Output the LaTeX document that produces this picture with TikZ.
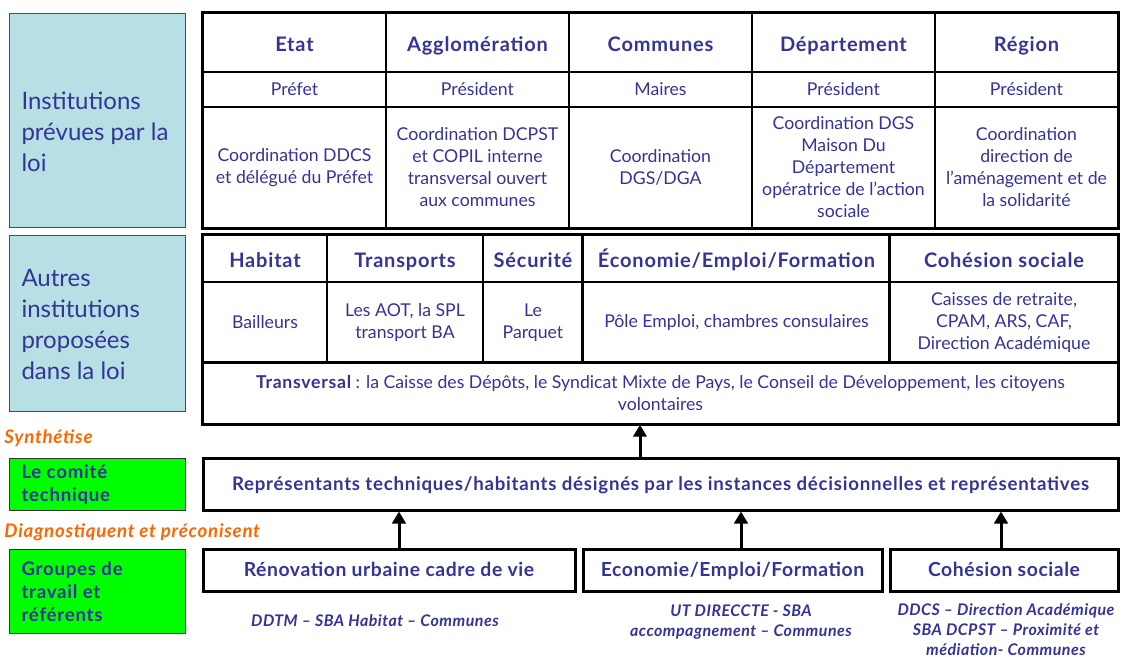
\documentclass[tikz,border=0pt]{standalone}
\usepackage{fontspec}
\setmainfont{Lato}
\usepackage{tikz}
\usetikzlibrary{arrows.meta}
\definecolor{txtblue}{RGB}{51,51,153}
\definecolor{boxteal}{RGB}{183,224,228}
\definecolor{boxgreen}{RGB}{0,255,0}
\definecolor{txtorange}{RGB}{255,102,0}
\newcommand{\widebold}{\bfseries\addfontfeatures{LetterSpace=4}}
\tikzset{every picture/.style={line width=0.75pt}}
\tikzset{
  cell/.style={draw, line width=1.1pt, inner sep=0pt, align=center, text=txtblue, font=\fontsize{13.25}{16.5}\selectfont},
  headcell/.style={cell, text height=13pt, text depth=0pt, font=\fontsize{15}{16.5}\selectfont\widebold},
  sidebox/.style={draw=black!70, line width=0.75pt, fill=boxteal, inner sep=0pt},
  greenbox/.style={draw=black!80, line width=0.75pt, fill=boxgreen, inner sep=0pt},
  sidetext/.style={anchor=west, align=left, inner sep=0.75pt, text=txtblue, font=\fontsize{18}{23.25}\selectfont},
  greentext/.style={anchor=west, align=left, inner sep=0.75pt, text=txtblue, font=\fontsize{14}{17.25}\selectfont\widebold},
  stepnote/.style={anchor=west, inner sep=0.75pt, text=txtorange, font=\fontsize{14}{16}\selectfont\widebold\itshape},
  whonote/.style={align=center, inner sep=0.75pt, text=txtblue, font=\fontsize{12}{15}\selectfont\bfseries\itshape\addfontfeatures{LetterSpace=3}},
  thickbox/.style={draw, line width=2.25pt, inner sep=0pt, align=center, text height=11pt, text depth=2pt, text=txtblue, font=\fontsize{14.5}{16.5}\selectfont\bfseries\addfontfeatures{LetterSpace=3}},
  uparrow/.style={line width=2.25pt, -{Triangle[width=10pt,length=9pt]}}
}
\begin{document}
\begin{tikzpicture}[x=0.75pt,y=0.75pt,yscale=-1,xscale=1]
\useasboundingbox (0,0) rectangle (1122,657);

%Left boxes
\node [sidebox, minimum width=132pt, minimum height=160.5pt] (lawbox) at (97,120) {};
\node [sidebox, minimum width=132pt, minimum height=132pt] (otherbox) at (97,323) {};
\node [greenbox, minimum width=132pt, minimum height=39pt] (comitebox) at (97,484) {};
\node [greenbox, minimum width=132pt, minimum height=63pt] (groupbox) at (97,591) {};
% Text Node
\node [sidetext] (lawtxt) at (20,132) {Institutions\\prévues par la\\loi};
\node [sidetext] (othertxt) at (20,324) {Autres\\institutions\\proposées\\dans la loi};
\node [greentext] (comitetxt) at (20,485) {Le comité\\technique};
\node [greentext] (grouptxt) at (20,592) {Groupes de\\travail et\\référents};
\node [stepnote] (synth) at (3,438) {Synthétise};
\node [stepnote] (diag) at (3,532) {Diagnostiquent et préconisent};

%First table
\node [headcell, minimum width=137.25pt, minimum height=44.25pt] (etat) at (294.5,42.5) {Etat};
\node [headcell, minimum width=137.25pt, minimum height=44.25pt] (agglo) at (477.5,42.5) {Agglomération};
\node [headcell, minimum width=137.25pt, minimum height=44.25pt] (communes) at (660.5,42.5) {Communes};
\node [headcell, minimum width=137.25pt, minimum height=44.25pt] (dept) at (843.5,42.5) {Département};
\node [headcell, minimum width=137.25pt, minimum height=44.25pt] (region) at (1026.5,42.5) {Région};
\node [cell, minimum width=137.25pt, minimum height=26.25pt] (etat2) at (294.5,89.5) {Préfet};
\node [cell, minimum width=137.25pt, minimum height=26.25pt] (agglo2) at (477.5,89.5) {Président};
\node [cell, minimum width=137.25pt, minimum height=26.25pt] (communes2) at (660.5,89.5) {Maires};
\node [cell, minimum width=137.25pt, minimum height=26.25pt] (dept2) at (843.5,89.5) {Président};
\node [cell, minimum width=137.25pt, minimum height=26.25pt] (region2) at (1026.5,89.5) {Président};
\node [cell, minimum width=137.25pt, minimum height=90.75pt] (etat3) at (294.5,167.5) {Coordination DDCS\\et délégué du Préfet};
\node [cell, minimum width=137.25pt, minimum height=90.75pt] (agglo3) at (477.5,167.5) {Coordination DCPST\\et COPIL interne\\transversal ouvert\\aux communes};
\node [cell, minimum width=137.25pt, minimum height=90.75pt] (communes3) at (660.5,167.5) {Coordination\\DGS/DGA};
\node [cell, minimum width=137.25pt, minimum height=90.75pt] (dept3) at (843.5,167.5) {Coordination DGS\\Maison Du\\Département\\opératrice de l’action\\sociale};
\node [cell, minimum width=137.25pt, minimum height=90.75pt] (region3) at (1026.5,167.5) {Coordination\\direction de\\l’aménagement et de\\la solidarité};
\draw [line width=2.25pt] (etat.north west) rectangle (region3.south east);

%Second table
\node [headcell, minimum width=93pt, minimum height=35.25pt] (habitat) at (265,258.5) {Habitat};
\node [headcell, minimum width=117pt, minimum height=35.25pt] (transp) at (405,258.5) {Transports};
\node [headcell, minimum width=75pt, minimum height=35.25pt] (secu) at (533,258.5) {Sécurité};
\node [headcell, minimum width=230.25pt, minimum height=35.25pt] (eco) at (736.5,258.5) {Économie/Emploi/Formation};
\node [headcell, minimum width=171pt, minimum height=35.25pt] (cohes) at (1004,258.5) {Cohésion sociale};
\node [cell, minimum width=93pt, minimum height=60.75pt] (habitat2) at (265,322.5) {Bailleurs};
\node [cell, minimum width=117pt, minimum height=60.75pt] (transp2) at (405,322.5) {Les AOT, la SPL\\transport BA};
\node [cell, minimum width=75pt, minimum height=60.75pt] (secu2) at (533,322.5) {Le\\Parquet};
\node [cell, minimum width=230.25pt, minimum height=60.75pt] (eco2) at (736.5,322.5) {Pôle Emploi, chambres consulaires};
\node [cell, minimum width=171pt, minimum height=60.75pt] (cohes2) at (1004,322.5) {Caisses de retraite,\\CPAM, ARS, CAF,\\Direction Académique};
\node [cell, minimum width=686.25pt, minimum height=45.75pt] (transv) at (660.5,393.5) {{\widebold Transversal} : la Caisse des Dépôts, le Syndicat Mixte de Pays, le Conseil de Développement, les citoyens\\volontaires};
\draw [line width=2.25pt] (habitat.north west) rectangle (transv.south east);
\draw [line width=2.25pt] (eco.north west) -- (eco2.south west);
\draw [line width=2.25pt] (cohes.north west) -- (cohes2.south west);
\draw [line width=2.25pt] (transv.north west) -- (transv.north east);

%Comite technique
\node [thickbox, font=\fontsize{14}{16}\selectfont\widebold, minimum width=686.25pt, minimum height=39pt] (repr) at (660.5,484) {Représentants techniques/habitants désignés par les instances décisionnelles et représentatives};

%Groupes de travail
\node [thickbox, minimum width=279pt, minimum height=31.5pt] (renov) at (389,570) {Rénovation urbaine cadre de vie};
\node [thickbox, minimum width=224.25pt, minimum height=31.5pt] (ecogr) at (732.5,570) {Economie/Emploi/Formation};
\node [thickbox, minimum width=171pt, minimum height=31.5pt] (cohesgr) at (1004,570) {Cohésion sociale};
% Text Node
\node [whonote] (renovwho) at (375,621) {DDTM – SBA Habitat – Communes};
\node [whonote] (ecowho) at (741,622) {UT DIRECCTE - SBA\\accompagnement – Communes};
\node [whonote] (coheswho) at (1006,630) {DDCS – Direction Académique\\SBA DCPST – Proximité et\\médiation- Communes};

%Arrows
\coordinate (ax1) at (640,0);
\coordinate (ax2) at (399,0);
\coordinate (ax3) at (741,0);
\coordinate (ax4) at (1001,0);
\draw [uparrow] (repr.north -| ax1) -- (transv.south -| ax1);
\draw [uparrow] (renov.north -| ax2) -- (repr.south -| ax2);
\draw [uparrow] (ecogr.north -| ax3) -- (repr.south -| ax3);
\draw [uparrow] (cohesgr.north -| ax4) -- (repr.south -| ax4);
\end{tikzpicture}
\end{document}
